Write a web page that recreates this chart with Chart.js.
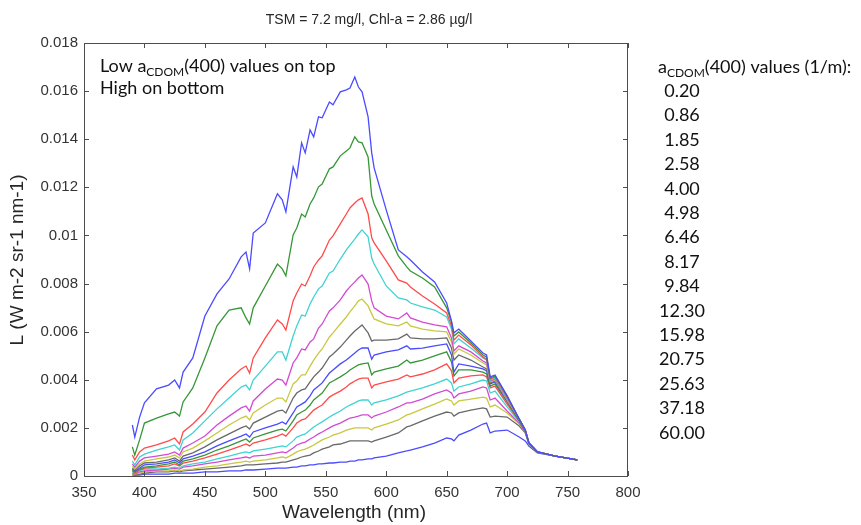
<!DOCTYPE html>
<html>
<head>
<meta charset="utf-8">
<title>Radiance vs CDOM</title>
<script src="https://cdn.jsdelivr.net/npm/chart.js@4.4.1/dist/chart.umd.min.js"></script>
<style>
  html, body { margin: 0; padding: 0; background: #fff; }
  canvas { display: block; }
</style>
</head>
<body>
<canvas id="chart" width="861" height="525"></canvas>
<script>
// wavelength grid (nm), shared by every curve
const wavelengths = [390, 392, 396, 400, 410, 420, 425, 429, 432, 440, 450, 460, 470, 480, 484, 487, 490, 500, 510, 514,
  517, 523, 526, 530, 533, 537, 540, 544, 547, 553, 556, 562, 567, 570, 574, 577, 580, 585, 588, 590,
  600, 610, 617, 620, 630, 640, 650, 654, 656, 660, 670, 680, 683, 686, 690, 700, 710, 715, 718, 725, 740, 758];

// aCDOM(400) in 1/m, top curve first
const cdomValues = ['0.20', '0.86', '1.85', '2.58', '4.00', '4.98', '6.46', '8.17', '9.84', '12.30', '15.98', '20.75', '25.63', '37.18', '60.00'];

// radiance L (W m-2 sr-1 nm-1), one array per aCDOM value
const rad020 = [0.00212, 0.00162, 0.00245, 0.00304, 0.00362, 0.00378, 0.00399, 0.00366, 0.00432, 0.00491, 0.00665, 0.00757, 0.00819, 0.00911, 0.00931, 0.00861, 0.01010, 0.01052, 0.01173, 0.01148,
  0.01098, 0.01285, 0.01243, 0.01385, 0.01343, 0.01439, 0.01410, 0.01493, 0.01489, 0.01555, 0.01543, 0.01597, 0.01605, 0.01613, 0.01659, 0.01617, 0.01597, 0.01493, 0.01343, 0.01281,
  0.01106, 0.00940, 0.00911, 0.00898, 0.00848, 0.00807, 0.00719, 0.00644, 0.00595, 0.00611, 0.00561, 0.00511, 0.00503, 0.00412, 0.00420, 0.00333, 0.00237, 0.00191, 0.00137, 0.00100, 0.00083, 0.00067];
const rad086 = [0.00121, 0.00087, 0.00150, 0.00220, 0.00241, 0.00258, 0.00266, 0.00249, 0.00308, 0.00366, 0.00491, 0.00624, 0.00690, 0.00699, 0.00657, 0.00632, 0.00699, 0.00790, 0.00881, 0.00861,
  0.00832, 0.01002, 0.01031, 0.01089, 0.01077, 0.01131, 0.01156, 0.01202, 0.01214, 0.01277, 0.01285, 0.01331, 0.01351, 0.01364, 0.01410, 0.01389, 0.01385, 0.01326, 0.01164, 0.01131,
  0.01023, 0.00915, 0.00869, 0.00852, 0.00823, 0.00786, 0.00699, 0.00640, 0.00582, 0.00599, 0.00553, 0.00503, 0.00495, 0.00407, 0.00416, 0.00333, 0.00237, 0.00191, 0.00137, 0.00100, 0.00083, 0.00067];
const rad185 = [0.00087, 0.00067, 0.00100, 0.00116, 0.00129, 0.00146, 0.00158, 0.00133, 0.00183, 0.00216, 0.00266, 0.00345, 0.00399, 0.00445, 0.00457, 0.00428, 0.00491, 0.00574, 0.00649, 0.00632,
  0.00607, 0.00728, 0.00761, 0.00798, 0.00790, 0.00832, 0.00869, 0.00898, 0.00915, 0.00981, 0.00998, 0.01048, 0.01089, 0.01114, 0.01135, 0.01148, 0.01156, 0.01089, 0.00990, 0.00969,
  0.00894, 0.00815, 0.00802, 0.00786, 0.00748, 0.00715, 0.00678, 0.00624, 0.00565, 0.00586, 0.00545, 0.00495, 0.00486, 0.00403, 0.00412, 0.00328, 0.00237, 0.00191, 0.00137, 0.00100, 0.00083, 0.00067];
const rad258 = [0.00062, 0.00046, 0.00079, 0.00091, 0.00108, 0.00121, 0.00129, 0.00108, 0.00150, 0.00179, 0.00229, 0.00279, 0.00324, 0.00370, 0.00378, 0.00358, 0.00399, 0.00457, 0.00516, 0.00516,
  0.00482, 0.00582, 0.00624, 0.00669, 0.00665, 0.00715, 0.00744, 0.00778, 0.00790, 0.00844, 0.00852, 0.00902, 0.00940, 0.00960, 0.00985, 0.01006, 0.01023, 0.00994, 0.00906, 0.00881,
  0.00790, 0.00740, 0.00732, 0.00719, 0.00703, 0.00690, 0.00661, 0.00611, 0.00549, 0.00570, 0.00532, 0.00491, 0.00482, 0.00399, 0.00407, 0.00324, 0.00237, 0.00191, 0.00137, 0.00100, 0.00083, 0.00067];
const rad400 = [0.00050, 0.00037, 0.00062, 0.00075, 0.00083, 0.00091, 0.00100, 0.00087, 0.00116, 0.00137, 0.00166, 0.00212, 0.00249, 0.00283, 0.00291, 0.00270, 0.00312, 0.00362, 0.00403, 0.00399,
  0.00378, 0.00470, 0.00491, 0.00528, 0.00524, 0.00557, 0.00570, 0.00615, 0.00632, 0.00686, 0.00699, 0.00732, 0.00769, 0.00786, 0.00807, 0.00823, 0.00836, 0.00798, 0.00728, 0.00699,
  0.00665, 0.00653, 0.00678, 0.00657, 0.00640, 0.00628, 0.00620, 0.00574, 0.00520, 0.00541, 0.00516, 0.00478, 0.00470, 0.00395, 0.00403, 0.00320, 0.00237, 0.00191, 0.00137, 0.00100, 0.00083, 0.00067];
const rad498 = [0.00042, 0.00029, 0.00050, 0.00062, 0.00071, 0.00079, 0.00087, 0.00075, 0.00100, 0.00116, 0.00146, 0.00179, 0.00212, 0.00241, 0.00249, 0.00233, 0.00262, 0.00295, 0.00324, 0.00324,
  0.00308, 0.00383, 0.00395, 0.00420, 0.00420, 0.00457, 0.00482, 0.00511, 0.00528, 0.00578, 0.00595, 0.00632, 0.00661, 0.00682, 0.00707, 0.00728, 0.00736, 0.00707, 0.00674, 0.00653,
  0.00632, 0.00624, 0.00640, 0.00624, 0.00611, 0.00603, 0.00599, 0.00557, 0.00507, 0.00528, 0.00503, 0.00470, 0.00462, 0.00391, 0.00399, 0.00316, 0.00237, 0.00191, 0.00137, 0.00100, 0.00083, 0.00067];
const rad646 = [0.00033, 0.00025, 0.00042, 0.00054, 0.00058, 0.00067, 0.00075, 0.00062, 0.00083, 0.00096, 0.00121, 0.00150, 0.00175, 0.00200, 0.00208, 0.00195, 0.00220, 0.00245, 0.00270, 0.00274,
  0.00262, 0.00324, 0.00345, 0.00358, 0.00362, 0.00391, 0.00412, 0.00432, 0.00449, 0.00495, 0.00507, 0.00536, 0.00565, 0.00582, 0.00603, 0.00615, 0.00628, 0.00595, 0.00561, 0.00565,
  0.00565, 0.00570, 0.00590, 0.00574, 0.00570, 0.00570, 0.00574, 0.00532, 0.00482, 0.00503, 0.00482, 0.00453, 0.00445, 0.00387, 0.00395, 0.00316, 0.00233, 0.00191, 0.00137, 0.00100, 0.00083, 0.00067];
const rad817 = [0.00029, 0.00021, 0.00033, 0.00046, 0.00050, 0.00058, 0.00067, 0.00054, 0.00071, 0.00083, 0.00100, 0.00125, 0.00146, 0.00166, 0.00175, 0.00162, 0.00183, 0.00200, 0.00216, 0.00225,
  0.00216, 0.00262, 0.00287, 0.00299, 0.00308, 0.00333, 0.00358, 0.00374, 0.00387, 0.00428, 0.00441, 0.00466, 0.00482, 0.00495, 0.00511, 0.00524, 0.00532, 0.00532, 0.00486, 0.00503,
  0.00516, 0.00524, 0.00541, 0.00528, 0.00532, 0.00541, 0.00549, 0.00503, 0.00432, 0.00466, 0.00457, 0.00445, 0.00437, 0.00383, 0.00391, 0.00312, 0.00233, 0.00187, 0.00137, 0.00100, 0.00083, 0.00067];
const rad984 = [0.00025, 0.00017, 0.00029, 0.00037, 0.00042, 0.00050, 0.00058, 0.00046, 0.00062, 0.00071, 0.00087, 0.00108, 0.00125, 0.00146, 0.00154, 0.00141, 0.00158, 0.00175, 0.00191, 0.00195,
  0.00187, 0.00229, 0.00254, 0.00266, 0.00274, 0.00295, 0.00316, 0.00333, 0.00345, 0.00387, 0.00395, 0.00412, 0.00428, 0.00441, 0.00453, 0.00462, 0.00466, 0.00470, 0.00420, 0.00432,
  0.00445, 0.00457, 0.00482, 0.00470, 0.00482, 0.00499, 0.00516, 0.00474, 0.00416, 0.00441, 0.00441, 0.00432, 0.00424, 0.00374, 0.00383, 0.00308, 0.00229, 0.00187, 0.00137, 0.00100, 0.00083, 0.00067];
const rad1230 = [0.00021, 0.00012, 0.00025, 0.00033, 0.00037, 0.00042, 0.00050, 0.00042, 0.00054, 0.00062, 0.00075, 0.00091, 0.00108, 0.00125, 0.00133, 0.00125, 0.00137, 0.00150, 0.00166, 0.00175,
  0.00166, 0.00200, 0.00220, 0.00233, 0.00237, 0.00258, 0.00274, 0.00287, 0.00295, 0.00328, 0.00337, 0.00353, 0.00370, 0.00383, 0.00395, 0.00403, 0.00407, 0.00407, 0.00366, 0.00378,
  0.00391, 0.00403, 0.00420, 0.00412, 0.00424, 0.00441, 0.00466, 0.00437, 0.00387, 0.00407, 0.00416, 0.00420, 0.00412, 0.00366, 0.00374, 0.00299, 0.00229, 0.00187, 0.00137, 0.00100, 0.00083, 0.00067];
const rad1598 = [0.00017, 0.00012, 0.00021, 0.00029, 0.00029, 0.00033, 0.00037, 0.00033, 0.00042, 0.00050, 0.00058, 0.00071, 0.00083, 0.00096, 0.00100, 0.00096, 0.00104, 0.00112, 0.00121, 0.00125,
  0.00121, 0.00146, 0.00162, 0.00170, 0.00175, 0.00191, 0.00204, 0.00216, 0.00225, 0.00245, 0.00254, 0.00270, 0.00287, 0.00295, 0.00304, 0.00312, 0.00316, 0.00316, 0.00295, 0.00304,
  0.00316, 0.00333, 0.00349, 0.00353, 0.00366, 0.00383, 0.00403, 0.00387, 0.00353, 0.00370, 0.00383, 0.00399, 0.00395, 0.00345, 0.00353, 0.00287, 0.00225, 0.00187, 0.00137, 0.00100, 0.00083, 0.00067];
const rad2075 = [0.00012, 0.00008, 0.00017, 0.00021, 0.00025, 0.00029, 0.00033, 0.00029, 0.00037, 0.00042, 0.00050, 0.00058, 0.00067, 0.00075, 0.00079, 0.00075, 0.00083, 0.00087, 0.00096, 0.00100,
  0.00096, 0.00116, 0.00129, 0.00137, 0.00141, 0.00154, 0.00162, 0.00175, 0.00183, 0.00200, 0.00208, 0.00220, 0.00233, 0.00241, 0.00245, 0.00249, 0.00254, 0.00254, 0.00241, 0.00249,
  0.00266, 0.00287, 0.00304, 0.00304, 0.00320, 0.00341, 0.00358, 0.00345, 0.00324, 0.00341, 0.00353, 0.00370, 0.00366, 0.00316, 0.00324, 0.00270, 0.00220, 0.00183, 0.00137, 0.00100, 0.00083, 0.00067];
const rad2563 = [0.00008, 0.00008, 0.00012, 0.00017, 0.00021, 0.00021, 0.00025, 0.00021, 0.00025, 0.00029, 0.00037, 0.00042, 0.00050, 0.00058, 0.00062, 0.00058, 0.00062, 0.00067, 0.00075, 0.00079,
  0.00075, 0.00091, 0.00100, 0.00108, 0.00112, 0.00121, 0.00129, 0.00141, 0.00150, 0.00162, 0.00170, 0.00179, 0.00191, 0.00195, 0.00200, 0.00200, 0.00200, 0.00200, 0.00191, 0.00200,
  0.00216, 0.00233, 0.00254, 0.00258, 0.00279, 0.00299, 0.00320, 0.00312, 0.00295, 0.00312, 0.00320, 0.00328, 0.00324, 0.00287, 0.00295, 0.00262, 0.00216, 0.00183, 0.00133, 0.00100, 0.00083, 0.00067];
const rad3718 = [0.00008, 0.00004, 0.00008, 0.00012, 0.00017, 0.00017, 0.00021, 0.00017, 0.00021, 0.00025, 0.00029, 0.00033, 0.00037, 0.00042, 0.00046, 0.00046, 0.00046, 0.00050, 0.00054, 0.00058,
  0.00058, 0.00067, 0.00071, 0.00079, 0.00083, 0.00087, 0.00096, 0.00104, 0.00112, 0.00121, 0.00129, 0.00133, 0.00141, 0.00146, 0.00146, 0.00146, 0.00146, 0.00146, 0.00141, 0.00146,
  0.00162, 0.00179, 0.00204, 0.00208, 0.00229, 0.00249, 0.00266, 0.00262, 0.00249, 0.00262, 0.00274, 0.00283, 0.00279, 0.00245, 0.00249, 0.00245, 0.00208, 0.00179, 0.00133, 0.00100, 0.00083, 0.00067];
const rad6000 = [0.00004, 0.00004, 0.00004, 0.00008, 0.00008, 0.00008, 0.00012, 0.00012, 0.00012, 0.00012, 0.00017, 0.00017, 0.00021, 0.00021, 0.00025, 0.00025, 0.00025, 0.00029, 0.00033, 0.00033,
  0.00033, 0.00037, 0.00037, 0.00042, 0.00042, 0.00046, 0.00046, 0.00050, 0.00050, 0.00054, 0.00054, 0.00058, 0.00058, 0.00062, 0.00062, 0.00067, 0.00067, 0.00071, 0.00071, 0.00075,
  0.00083, 0.00096, 0.00104, 0.00108, 0.00121, 0.00137, 0.00158, 0.00154, 0.00146, 0.00170, 0.00191, 0.00216, 0.00220, 0.00179, 0.00187, 0.00191, 0.00162, 0.00146, 0.00125, 0.00096, 0.00083, 0.00067];

const radiance = [rad020, rad086, rad185, rad258, rad400, rad498, rad646, rad817, rad984, rad1230, rad1598, rad2075, rad2563, rad3718, rad6000];

// matlab-ish colour cycle: b g r c m y k
const lineColors = ['rgb(75,75,255)', 'rgb(55,150,55)', 'rgb(255,75,75)', 'rgb(65,210,210)', 'rgb(210,75,210)', 'rgb(200,200,65)', 'rgb(105,105,105)'];

const xTicks = [350, 400, 450, 500, 550, 600, 650, 700, 750, 800];
const yTicks = [0, 0.002, 0.004, 0.006, 0.008, 0.01, 0.012, 0.014, 0.016, 0.018];

const sansFont = '"Liberation Sans", Arial, sans-serif';
const noteFont = 'Lato, "Open Sans", sans-serif';

function drawCdomLabel(ctx, x, y, before, after, size) {
    ctx.font = `${size}px ${noteFont}`;
    ctx.fillText(before + 'a', x, y);
    x += ctx.measureText(before + 'a').width;
    const sub = Math.round(size * 0.66);
    ctx.font = `${sub}px ${noteFont}`;
    ctx.fillText('CDOM', x, y + size * 0.2);
    x += ctx.measureText('CDOM').width;
    ctx.font = `${size}px ${noteFont}`;
    ctx.fillText(after, x, y);
}

const frameAndText = {
    id: 'frameAndText',
    afterDraw(chart) {
        const { ctx, chartArea: a, scales } = chart;
        ctx.save();

        // box with inward ticks on all four sides
        ctx.strokeStyle = '#4d4d4d';
        ctx.lineWidth = 1;
        ctx.strokeRect(a.left + 0.5, a.top + 0.5, a.right - a.left - 1, a.bottom - a.top);
        ctx.beginPath();
        xTicks.forEach(v => {
            const px = Math.round(scales.x.getPixelForValue(v)) + 0.5;
            ctx.moveTo(px, a.bottom); ctx.lineTo(px, a.bottom - 5);
            ctx.moveTo(px, a.top); ctx.lineTo(px, a.top + 5);
        });
        yTicks.forEach(v => {
            const py = Math.round(scales.y.getPixelForValue(v)) + 0.5;
            ctx.moveTo(a.left, py); ctx.lineTo(a.left + 5, py);
            ctx.moveTo(a.right, py); ctx.lineTo(a.right - 5, py);
        });
        ctx.stroke();

        ctx.fillStyle = '#262626';
        ctx.textBaseline = 'middle';
        ctx.textAlign = 'center';
        ctx.font = `14px ${sansFont}`;
        ctx.fillText('TSM = 7.2 mg/l, Chl-a = 2.86 \u00b5g/l', 369, 20);

        ctx.font = `19px ${sansFont}`;
        ctx.fillText('Wavelength (nm)', 354, 513);
        ctx.save();
        ctx.translate(18, 260);
        ctx.rotate(-Math.PI / 2);
        ctx.fillText('L (W m-2 sr-1 nm-1)', 0, 0);
        ctx.restore();

        // notes inside the axes
        ctx.fillStyle = '#111';
        ctx.textAlign = 'left';
        ctx.textBaseline = 'alphabetic';
        drawCdomLabel(ctx, 100, 72, 'Low ', '(400) values on top', 18);
        ctx.font = `18px ${noteFont}`;
        ctx.fillText('High on bottom', 100, 94);

        // list of aCDOM values on the right
        drawCdomLabel(ctx, 658, 73, '', '(400) values (1/m):', 18);
        ctx.textAlign = 'center';
        ctx.font = `18px ${noteFont}`;
        cdomValues.forEach((v, i) => ctx.fillText(v, 682, 97 + i * 24.4));

        ctx.restore();
    }
};

const datasets = radiance.map((values, i) => ({
    label: cdomValues[i],
    data: wavelengths.map((w, j) => ({ x: w, y: values[j] })),
    borderColor: lineColors[i % lineColors.length],
    borderWidth: 1.3,
    pointRadius: 0,
    fill: false,
    tension: 0
}));

new Chart(document.getElementById('chart'), {
    type: 'line',
    data: { datasets },
    options: {
        responsive: false,
        animation: false,
        layout: { padding: { top: 43, right: 233, left: 0, bottom: 0 } },
        plugins: {
            legend: { display: false },
            tooltip: { enabled: false }
        },
        scales: {
            x: {
                type: 'linear',
                min: 350,
                max: 800,
                grid: { display: false, drawTicks: false },
                border: { display: false },
                ticks: { stepSize: 50, maxRotation: 0, padding: 8, color: '#333', font: { family: sansFont, size: 15 } },
                afterFit: s => { s.height = 49; }
            },
            y: {
                min: 0,
                max: 0.018,
                grid: { display: false, drawTicks: false },
                border: { display: false },
                ticks: {
                    stepSize: 0.002,
                    padding: 6,
                    color: '#333',
                    font: { family: sansFont, size: 15 },
                    callback: v => String(Number(v.toFixed(3)))
                },
                afterFit: s => { s.width = 84; }
            }
        }
    },
    plugins: [frameAndText]
});
</script>
</body>
</html>
